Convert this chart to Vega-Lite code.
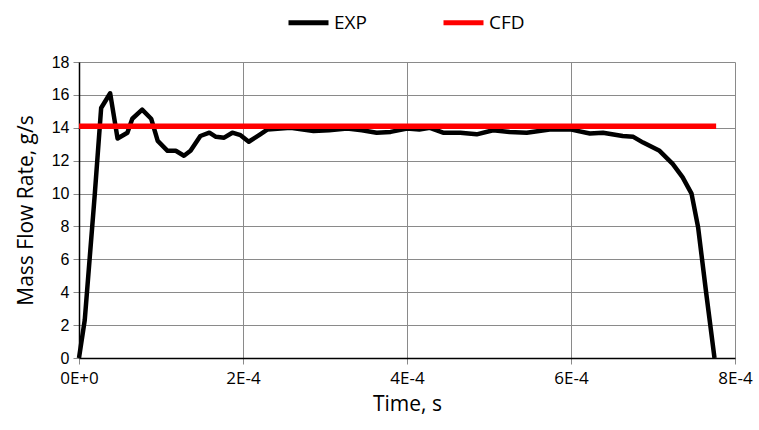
{
  "$schema": "https://vega.github.io/schema/vega-lite/v6.json",
  "autosize": "none",
  "width": 656,
  "height": 296,
  "padding": {"left": 79, "top": 62, "right": 24, "bottom": 72},
  "background": "white",
  "datasets": {
    "exp": [
      {"t": 0, "y": 0, "series": "EXP"},
      {"t": 0.07e-4, "y": 2.3, "series": "EXP"},
      {"t": 0.19e-4, "y": 9.8, "series": "EXP"},
      {"t": 0.27e-4, "y": 15.2, "series": "EXP"},
      {"t": 0.38e-4, "y": 16.1, "series": "EXP"},
      {"t": 0.47e-4, "y": 13.35, "series": "EXP"},
      {"t": 0.59e-4, "y": 13.7, "series": "EXP"},
      {"t": 0.65e-4, "y": 14.55, "series": "EXP"},
      {"t": 0.77e-4, "y": 15.1, "series": "EXP"},
      {"t": 0.88e-4, "y": 14.55, "series": "EXP"},
      {"t": 0.96e-4, "y": 13.2, "series": "EXP"},
      {"t": 1.08e-4, "y": 12.6, "series": "EXP"},
      {"t": 1.18e-4, "y": 12.6, "series": "EXP"},
      {"t": 1.28e-4, "y": 12.3, "series": "EXP"},
      {"t": 1.36e-4, "y": 12.6, "series": "EXP"},
      {"t": 1.48e-4, "y": 13.5, "series": "EXP"},
      {"t": 1.59e-4, "y": 13.7, "series": "EXP"},
      {"t": 1.67e-4, "y": 13.45, "series": "EXP"},
      {"t": 1.77e-4, "y": 13.4, "series": "EXP"},
      {"t": 1.87e-4, "y": 13.7, "series": "EXP"},
      {"t": 1.97e-4, "y": 13.55, "series": "EXP"},
      {"t": 2.07e-4, "y": 13.15, "series": "EXP"},
      {"t": 2.21e-4, "y": 13.6, "series": "EXP"},
      {"t": 2.3e-4, "y": 13.9, "series": "EXP"},
      {"t": 2.58e-4, "y": 14.0, "series": "EXP"},
      {"t": 2.86e-4, "y": 13.8, "series": "EXP"},
      {"t": 3.05e-4, "y": 13.85, "series": "EXP"},
      {"t": 3.27e-4, "y": 13.95, "series": "EXP"},
      {"t": 3.45e-4, "y": 13.85, "series": "EXP"},
      {"t": 3.63e-4, "y": 13.7, "series": "EXP"},
      {"t": 3.8e-4, "y": 13.75, "series": "EXP"},
      {"t": 4.0e-4, "y": 13.95, "series": "EXP"},
      {"t": 4.15e-4, "y": 13.9, "series": "EXP"},
      {"t": 4.28e-4, "y": 14.0, "series": "EXP"},
      {"t": 4.44e-4, "y": 13.7, "series": "EXP"},
      {"t": 4.65e-4, "y": 13.7, "series": "EXP"},
      {"t": 4.85e-4, "y": 13.6, "series": "EXP"},
      {"t": 5.05e-4, "y": 13.85, "series": "EXP"},
      {"t": 5.25e-4, "y": 13.75, "series": "EXP"},
      {"t": 5.46e-4, "y": 13.7, "series": "EXP"},
      {"t": 5.74e-4, "y": 13.9, "series": "EXP"},
      {"t": 5.99e-4, "y": 13.9, "series": "EXP"},
      {"t": 6.23e-4, "y": 13.65, "series": "EXP"},
      {"t": 6.39e-4, "y": 13.7, "series": "EXP"},
      {"t": 6.63e-4, "y": 13.5, "series": "EXP"},
      {"t": 6.76e-4, "y": 13.45, "series": "EXP"},
      {"t": 6.88e-4, "y": 13.1, "series": "EXP"},
      {"t": 7.08e-4, "y": 12.6, "series": "EXP"},
      {"t": 7.24e-4, "y": 11.8, "series": "EXP"},
      {"t": 7.36e-4, "y": 11.0, "series": "EXP"},
      {"t": 7.47e-4, "y": 10.0, "series": "EXP"},
      {"t": 7.55e-4, "y": 7.95, "series": "EXP"},
      {"t": 7.65e-4, "y": 3.9, "series": "EXP"},
      {"t": 7.75e-4, "y": 0, "series": "EXP"}
    ],
    "cfd": [
      {"t": 0, "y": 14.1, "series": "CFD"},
      {"t": 7.77e-4, "y": 14.1, "series": "CFD"}
    ]
  },
  "encoding": {
    "x": {
      "field": "t",
      "type": "quantitative",
      "scale": {"domain": [0, 0.0008], "nice": false, "zero": false},
      "axis": {
        "title": "Time, s",
        "values": [0, 0.0002, 0.0004, 0.0006, 0.0008],
        "labelExpr": "replace(format(datum.value, '.0e'), 'e', 'E')",
        "grid": true,
        "gridColor": "#8a8a8a",
        "gridWidth": 1,
        "domainColor": "#000000",
        "domainWidth": 1.5,
        "tickColor": "#8a8a8a",
        "tickSize": 6,
        "labelFont": "Open Sans",
        "labelFontSize": 17,
        "labelColor": "#000000",
        "labelPadding": 6,
        "labelFlush": false,
        "titleFont": "Open Sans",
        "titleFontSize": 21,
        "titleFontWeight": "normal",
        "titleColor": "#000000",
        "titlePadding": 7
      }
    },
    "y": {
      "field": "y",
      "type": "quantitative",
      "scale": {"domain": [0, 18], "nice": false},
      "axis": {
        "title": "Mass Flow Rate, g/s",
        "values": [0, 2, 4, 6, 8, 10, 12, 14, 16, 18],
        "grid": true,
        "gridColor": "#8a8a8a",
        "gridWidth": 1,
        "domainColor": "#000000",
        "domainWidth": 1.5,
        "tickColor": "#8a8a8a",
        "tickSize": 6,
        "labelFont": "Liberation Sans",
        "labelFontSize": 16,
        "labelColor": "#000000",
        "labelPadding": 4,
        "titleFont": "Open Sans",
        "titleFontSize": 21,
        "titleFontWeight": "normal",
        "titleColor": "#000000",
        "titlePadding": 15
      }
    },
    "color": {
      "field": "series",
      "type": "nominal",
      "scale": {"domain": ["EXP", "CFD"], "range": ["#000000", "#ff0000"]},
      "legend": {
        "title": null,
        "orient": "none",
        "direction": "horizontal",
        "legendX": 207,
        "legendY": -62,
        "padding": 0,
        "symbolType": "stroke",
        "symbolSize": 1600,
        "symbolStrokeWidth": 5,
        "labelFont": "Open Sans",
        "labelFontSize": 19,
        "labelColor": "#000000",
        "labelOffset": 3,
        "columnPadding": 66
      }
    }
  },
  "layer": [
    {
      "data": {"name": "exp"},
      "mark": {"type": "line", "strokeWidth": 4.5, "strokeJoin": "round", "clip": false}
    },
    {
      "data": {"name": "cfd"},
      "mark": {"type": "line", "strokeWidth": 5.5, "clip": false}
    }
  ],
  "config": {"view": {"stroke": null}}
}
